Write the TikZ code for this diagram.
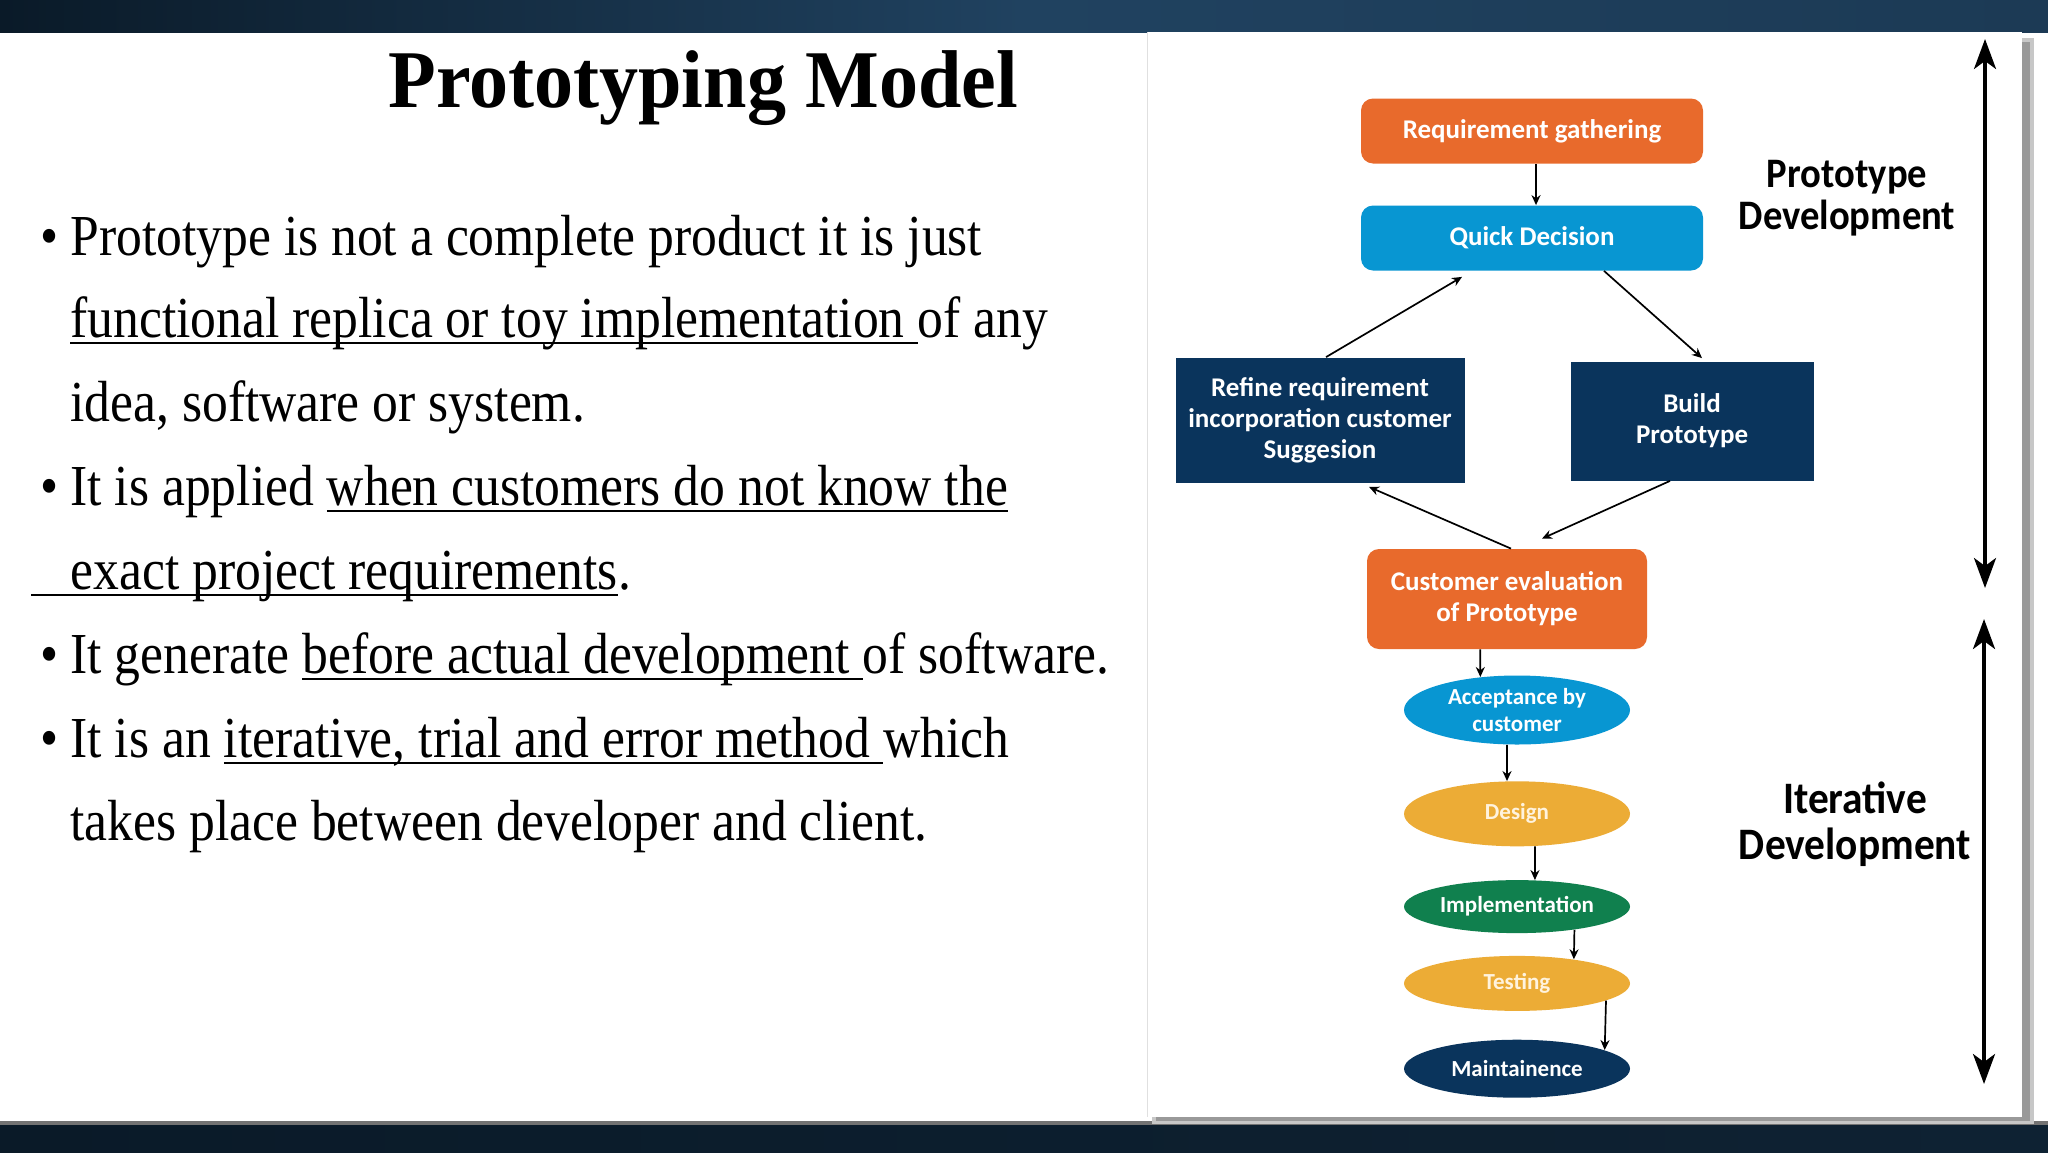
\documentclass[tikz,border=0pt]{standalone}
\usepackage{fontspec}
\setmainfont{Liberation Serif}
\newfontfamily\diagfont{Carlito}
\usetikzlibrary{arrows.meta,positioning,shapes.geometric}
\definecolor{slideNavy}{RGB}{10,26,40}
\definecolor{slideBlue}{RGB}{32,66,96}
\definecolor{protoOrange}{RGB}{232,106,44}
\definecolor{protoBlue}{RGB}{8,150,210}
\definecolor{protoNavy}{RGB}{10,52,92}
\definecolor{protoYellow}{RGB}{236,172,54}
\definecolor{protoGreen}{RGB}{16,128,78}
\definecolor{protoCream}{RGB}{255,243,222}
\newcommand\ulk[1]{\setbox0\hbox{#1}\rlap{\rule[-3.6pt]{\wd0}{1.1pt}}\box0}

\begin{document}
\begin{tikzpicture}[x=0.5pt,y=-0.5pt,
    bodyline/.style={anchor=base west,inner sep=0pt,font=\fontsize{29}{34}\selectfont,xscale=0.89,transform shape},
    roundbox/.style={rounded corners=6pt,minimum width=171pt,minimum height=32.5pt,text=white,align=center,font=\diagfont\bfseries\fontsize{13.5}{15.5}\selectfont},
    squarebox/.style={fill=protoNavy,text=white,align=center,font=\diagfont\bfseries\fontsize{13.5}{15.5}\selectfont},
    stage/.style={ellipse,inner sep=0pt,minimum width=113pt,text=white,align=center,font=\diagfont\bfseries\fontsize{11.5}{13.5}\selectfont},
    sidelabel/.style={align=center,inner sep=0pt,xscale=0.92,transform shape,font=\diagfont\bfseries\fontsize{21}{21}\selectfont},
    arr/.style={-{Stealth[length=5pt,width=4.5pt]},line width=0.85pt},
    sidearrow/.style={{Stealth[length=15pt,width=11pt,inset=4pt]}-{Stealth[length=15pt,width=11pt,inset=4pt]},line width=1.7pt}
  ]
  \useasboundingbox (0,0) rectangle (2048,1152);
  \fill[white] (0,0) rectangle (2048,1152);
  % slide frame
  \shade[left color=slideNavy,right color=slideBlue!80!slideNavy,middle color=slideBlue] (0,0) rectangle (2048,32);
  \fill[black!55] (0,1121) rectangle (2048,1125);
  \shade[left color=slideNavy,right color=slideNavy!80!slideBlue] (0,1125) rectangle (2048,1152);

  % left text
  \node[bodyline,font=\fontsize{41}{48}\selectfont\bfseries,xscale=1.07] (title) at (388,107) {Prototyping Model};
  \foreach \yy [count=\i] in {255,505,673,757}
    \node[bodyline] (bul\i) at (40,\yy) {•};
  \node[bodyline] (l1) at (70,255) {Prototype is not a complete product it is just};
  \node[bodyline] (l2) at (70,337) {\ulk{functional replica or toy implementation\ }of any};
  \node[bodyline] (l3) at (70,421) {idea, software or system.};
  \node[bodyline] (l4) at (70,505) {It is applied \ulk{when customers do not know the}};
  \node[bodyline] (l5) at (31,589) {\ulk{\hspace*{22pt}exact project requirements}.};
  \node[bodyline] (l6) at (70,673) {It generate \ulk{before actual development\ }of software.};
  \node[bodyline] (l7) at (70,757) {It is an \ulk{iterative, trial and error method\ }which};
  \node[bodyline] (l8) at (70,840) {takes place between developer and client.};

  % diagram panel
  \fill[black!22] (1152,38) rectangle (2034,1124);
  \fill[black!40] (1156,42) rectangle (2030,1121);
  \fill[white] (1147,32) rectangle (2022,1117);
  \draw[black!12] (1147,32) -- (1147,1117);

  \node[roundbox,fill=protoOrange] (req) at (1532,131) {Requirement gathering};
  \node[roundbox,fill=protoBlue] (qd) at (1532,238) {Quick Decision};
  \node[squarebox,minimum width=144.5pt,minimum height=62.5pt] (ref) at (1320,420) {Refine requirement\\incorporation customer\\Suggesion};
  \node[squarebox,minimum width=121.5pt,minimum height=59.5pt] (bld) at (1692,421) {Build\\Prototype};
  \node[roundbox,fill=protoOrange,minimum width=140pt,minimum height=50pt] (ce) at (1507,599) {Customer evaluation\\of Prototype};

  \node[stage,fill=protoBlue,minimum height=34.5pt] (acc) at (1517,710) {Acceptance by\\customer};
  \node[stage,fill=protoYellow,text=protoCream,minimum height=32.5pt,below=18pt of acc] (des) {Design};
  \node[stage,fill=protoGreen,minimum height=26.5pt,below=16.5pt of des] (impl) {Implementation};
  \node[stage,fill=protoYellow,text=protoCream,minimum height=27.5pt,below=11pt of impl] (tst) {Testing};
  \node[stage,fill=protoNavy,minimum height=29pt,below=14pt of tst] (mnt) {Maintainence};

  \draw[arr] ([xshift=2pt]req.south) -- ([xshift=2pt]qd.north);
  \draw[arr] ([xshift=3pt]ref.north) -- ([xshift=-35pt,yshift=-3pt]qd.south);
  \draw[arr] ([xshift=36pt]qd.south) -- ([xshift=5pt,yshift=1.5pt]bld.north);
  \draw[arr] ([xshift=-11pt]bld.south) -- ([xshift=17.5pt,yshift=5pt]ce.north);
  \draw[arr] ([xshift=2pt]ce.north) -- ([xshift=24.5pt,yshift=-2pt]ref.south);
  \draw[arr] (ce.-118) -- (acc.138);
  \draw[arr] (acc.-106) -- (des.107);
  \draw[arr] (des.-61) -- (impl.56);
  \draw[arr] (impl.-22) -- (tst.23);
  \draw[arr] (tst.-11) -- (mnt.12);

  % phase markers
  \coordinate (pdTop) at (1985,39);
  \coordinate (pdBot) at (1985,588);
  \coordinate (idTop) at (1984,619);
  \coordinate (idBot) at (1984,1084);
  \draw[sidearrow] (pdTop) -- (pdBot);
  \draw[sidearrow] (idTop) -- (idBot);
  \node[sidelabel] (pdLabel) at (1847,198) {Prototype\\Development};
  \node[sidelabel,font=\diagfont\bfseries\fontsize{22.5}{23}\selectfont] (idLabel) at (1855,824) {Iterative\\Development};
\end{tikzpicture}
\end{document}
